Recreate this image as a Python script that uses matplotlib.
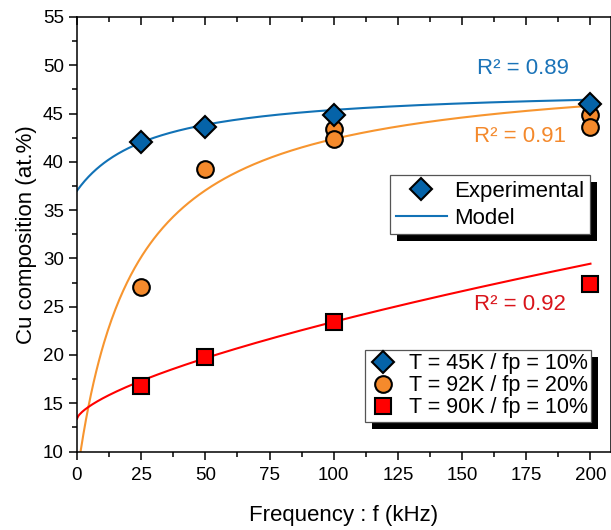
import numpy as np
import matplotlib
matplotlib.use("Agg")
import matplotlib.pyplot as plt
from matplotlib.patches import Rectangle
from matplotlib.lines import Line2D
from matplotlib.transforms import IdentityTransform

plt.rcParams['font.family'] = ['Liberation Sans', 'DejaVu Sans']

# measured points (frequency in kHz, Cu at.%)
f_45k = [25, 50, 100, 200]
cu_45k = [42.05, 43.6, 44.8, 46.0]

f_92k = [25, 50, 100, 100, 200, 200]
cu_92k = [27.0, 39.3, 43.45, 42.35, 44.9, 43.6]

f_90k = [25, 50, 100, 200]
cu_90k = [16.8, 19.75, 23.4, 27.3]

# fitted model parameters
blue_fit = (47.8, 313.0, 29.0)     # a - b/(f + c)
orange_fit = (50.0, 930.8, 21.87)  # a - b/(f + c)
red_fit = (13.4, 0.442, 0.678)     # a + b*f**p

r2_labels = ["R² = 0.89", "R² = 0.91", "R² = 0.92"]
series_labels = ["T = 45K / fp = 10%", "T = 92K / fp = 20%", "T = 90K / fp = 10%"]

c_blue = '#0563A8'
c_blue_line = '#1172B6'
c_orange = '#F58A2C'
c_orange_line = '#F7952F'
c_red = '#FF0000'

W, H = 611, 530
fig = plt.figure(figsize=(W / 100, H / 100), dpi=100)
ax = fig.add_axes([0.126, 0.148, 0.874, 0.820])
px = IdentityTransform()

f = np.linspace(0, 200, 400)
a, b, c = blue_fit
ax.plot(f, a - b / (f + c), color=c_blue_line, lw=1.5, zorder=2)
f2 = np.linspace(0.5, 200, 400)
a, b, c = orange_fit
ax.plot(f2, a - b / (f2 + c), color=c_orange_line, lw=1.5, zorder=2)
a, b, p = red_fit
ax.plot(f, a + b * f ** p, color=c_red, lw=1.5, zorder=2)

mk = dict(ls='none', mec='black', mew=1.5, zorder=3)
ax.plot(f_92k, cu_92k, 'o', ms=12, mfc=c_orange, **mk)
ax.plot(f_90k, cu_90k, 's', ms=11, mfc=c_red, **mk)
ax.plot(f_45k, cu_45k, 'D', ms=11, mfc=c_blue, **mk)

# R² annotations, placed in pixels (from top-left of the picture)
for (x, y), txt, col in zip([(523, 68), (520, 137), (520, 305)], r2_labels,
                            ['#1A73B8', '#F4892C', '#D9141B']):
    ax.text(x, H - y, txt, color=col, fontsize=16, ha='center', va='center',
            transform=px)

ax.set_xlim(0, 208)
ax.set_ylim(10, 55)
ax.set_xticks(np.arange(0, 201, 25))
ax.set_xticks(np.arange(12.5, 208, 25), minor=True)
ax.set_yticks(np.arange(10, 56, 5))
ax.set_yticks(np.arange(12.5, 55, 5), minor=True)
ax.tick_params(which='both', direction='out', width=1.1, labelsize=13.5, colors='black')
ax.tick_params(which='major', length=6)
ax.tick_params(which='minor', length=3.5)
ax.tick_params(axis='x', which='major', pad=5)
ax.tick_params(axis='x', which='both', top=True, labeltop=False)
ax.tick_params(axis='y', which='both', right=True, labelright=False)
# inward ticks on top and right
for t in ax.xaxis.get_major_ticks() + ax.xaxis.get_minor_ticks():
    t.tick2line.set_marker(3)
for t in ax.yaxis.get_major_ticks() + ax.yaxis.get_minor_ticks():
    t.tick2line.set_marker(1)
for s in ax.spines.values():
    s.set_linewidth(1.1)

ax.set_xlabel("Frequency : f (kHz)", fontsize=16, labelpad=15)
ax.set_ylabel("Cu composition (at.%)", fontsize=16, labelpad=4)

# legend 1 : marker / model
h1 = [Line2D([], [], marker='D', ls='none', ms=11, mfc=c_blue, mec='black', mew=1.5),
      Line2D([], [], color=c_blue_line, lw=1.5)]
leg1 = ax.legend(h1, ["Experimental", "Model"], loc='upper left',
                 bbox_to_anchor=(390, H - 175), bbox_transform=px,
                 fontsize=16, frameon=True, fancybox=False, framealpha=1,
                 edgecolor='#555555', handlelength=2.3, handletextpad=0.35,
                 labelspacing=0.28, borderpad=0.25, borderaxespad=0)
leg1.get_frame().set_linewidth(0.9)
ax.add_artist(leg1)

# legend 2 : series
h2 = [Line2D([], [], marker='D', ls='none', ms=11, mfc=c_blue, mec='black', mew=1.5),
      Line2D([], [], marker='o', ls='none', ms=12, mfc=c_orange, mec='black', mew=1.5),
      Line2D([], [], marker='s', ls='none', ms=11, mfc=c_red, mec='black', mew=1.5)]
leg2 = ax.legend(h2, series_labels, loc='upper left',
                 bbox_to_anchor=(365, H - 350), bbox_transform=px,
                 fontsize=15.5, frameon=True, fancybox=False, framealpha=1,
                 edgecolor='#555555', handlelength=1.4, handletextpad=0.5,
                 labelspacing=0.05, borderpad=0.15, borderaxespad=0)
leg2.get_frame().set_linewidth(0.9)

# black drop shadows behind the legends
fig.canvas.draw()
for lg in (leg1, leg2):
    bb = lg.get_window_extent()
    ax.add_patch(Rectangle((bb.x0 + 7, bb.y0 - 7), bb.width, bb.height,
                           transform=px, facecolor='black',
                           edgecolor='none', zorder=4.5, clip_on=False))

fig.savefig("out.png", dpi=100)
